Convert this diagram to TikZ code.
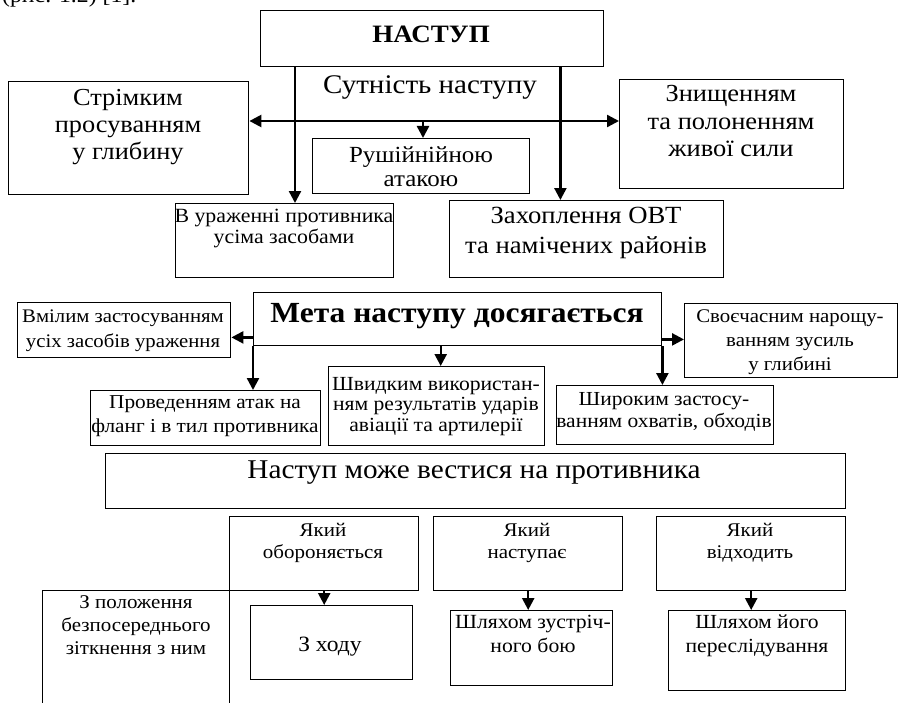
\documentclass[tikz,border=0pt]{standalone}
\usepackage{fontspec}
\setmainfont{Liberation Serif}[FakeStretch=1.08]
\usetikzlibrary{arrows.meta}

\newcommand{\fsz}[2]{\fontsize{#1bp}{#2bp}\selectfont}
\tikzstyle{box} = [draw, line width=1.4bp, inner sep=0pt, anchor=north west]
\tikzstyle{txt} = [inner sep=0pt, align=center, anchor=base]
\tikzstyle{arrow} = [draw, line width=2.4bp, -{Triangle[length=12bp,width=12bp]}]
\tikzstyle{twoway} = [draw, line width=2.4bp, {Triangle[length=12bp,width=12bp]}-{Triangle[length=12bp,width=12bp]}]

\begin{document}
\begin{tikzpicture}[x=1bp, y=-1bp]
    \useasboundingbox (0,0) rectangle (898,703);

    % The line left over from the page above
    \node[inner sep=0pt, anchor=base west, font=\fsz{22}{26}] (ris) at (2,3) {(рис. 1.2) [1].};

    % The boxes
    \foreach \pos/\w/\h/\name in {(260,10)/343/56/nastup, (8,81)/240/113/strim, (312,138)/217/55/rush,
        (619,79)/224/109/znysh, (175,203)/218/74/urazh, (449,200)/274/77/zahopl,
        (253,292)/408/53/meta, (17,302)/213/55/vmil, (684,303)/213/74/svoe,
        (90,390)/230/55/proved, (328,366)/216/79/shvyd, (556,385)/217/59/shyr,
        (105,453)/740/55/mozhe, (229,516)/189/74/yak1, (433,516)/189/74/yak2, (656,516)/189/74/yak3,
        (42,590)/187/130/polozh, (250,605)/162/74/zhodu, (450,610)/162/75/zustr, (668,610)/177/80/peresl}
      \node[box, minimum width=\w bp, minimum height=\h bp] (\name) at \pos {};

    % The texts in them (y is the baseline of the last line)
    \foreach \name/\x/\y/\sz/\lead/\txt in {
        nastup-t/431/43/25/28/{\textbf{НАСТУП}},
        sutn/430/94/26.9/28/{Сутність наступу},
        strim-t/128/160/24.4/27/{Стрімким\\просуванням\\у глибину},
        rush-t/421/186/23.1/23/{Рушійнійною\\атакою},
        znysh-t/731/157/24.5/27.5/{Знищенням\\та полоненням\\живої сили},
        urazh-t/284/243/20.2/21/{В ураженні противника\\усіма засобами},
        zahopl-t/586/253/24.7/30/{Захоплення ОВТ\\та намічених районів},
        meta-t/457/322/29.2/30/{\textbf{Мета наступу досягається}},
        vmil-t/123/347/19.2/25/{Вмілим застосуванням\\усіх засобів ураження},
        svoe-t/790/370/19.3/24/{Своєчасним нарощу-\\ванням зусиль\\у глибині},
        proved-t/205/432/19.7/24/{Проведенням атак на\\фланг і в тил противника},
        shvyd-t/436/431/20/20.5/{Швидким використан-\\ням результатів ударів\\авіації та артилерії},
        shyr-t/664/427/19.9/22/{Широким застосу-\\ванням охватів, обходів},
        mozhe-t/474/478/27.1/29/{Наступ може вестися на противника},
        yak1-t/323/558/19.4/22/{Який\\обороняється},
        yak2-t/527/558/19.4/22/{Який\\наступає},
        yak3-t/750/558/19.4/22/{Який\\відходить},
        polozh-t/136/654/19.4/23/{З положення\\безпосереднього\\зіткнення з ним},
        zhodu-t/330/651/21.8/24/{З ходу},
        zustr-t/533/652/20.1/24/{Шляхом зустріч-\\ного бою},
        peresl-t/757/652/20/24/{Шляхом його\\переслідування}}
      \node[txt, font=\fsz{\sz}{\lead}] (\name) at (\x,\y) {\txt};

    % The essence of the offensive
    \coordinate (hub) at (423,121);
    \coordinate (nl) at ([xshift=35bp]nastup.south west);
    \coordinate (nr) at ([xshift=-44bp]nastup.south east);
    \path[twoway] (hub -| strim.east) -- (hub -| znysh.west);
    \path[arrow] (hub) -- (hub |- rush.north);
    \path[arrow] (nl) -- (nl |- urazh.north);
    \path[arrow] (nr) -- (nr |- zahopl.north);

    % How the aim is reached
    \coordinate (ml) at ([yshift=9bp]meta.south west);
    \coordinate (mm) at ([xshift=-17bp]meta.south);
    \coordinate (mr) at ([yshift=7bp]meta.south east);
    \path[arrow] (meta.south west) -- (meta.south west |- proved.north);
    \path[arrow] (ml) -- (ml -| vmil.east);
    \path[arrow] (mm) -- (mm |- shvyd.north);
    \path[arrow] (meta.south east) -- (meta.south east |- shyr.north);
    \path[arrow] (mr) -- (mr -| svoe.west);

    % The kinds of enemy
    \foreach \source/\sink in {yak1/zhodu, yak2/zustr, yak3/peresl}
      \path[arrow] (\source.south) -- (\source.south |- \sink.north);
\end{tikzpicture}
\end{document}
